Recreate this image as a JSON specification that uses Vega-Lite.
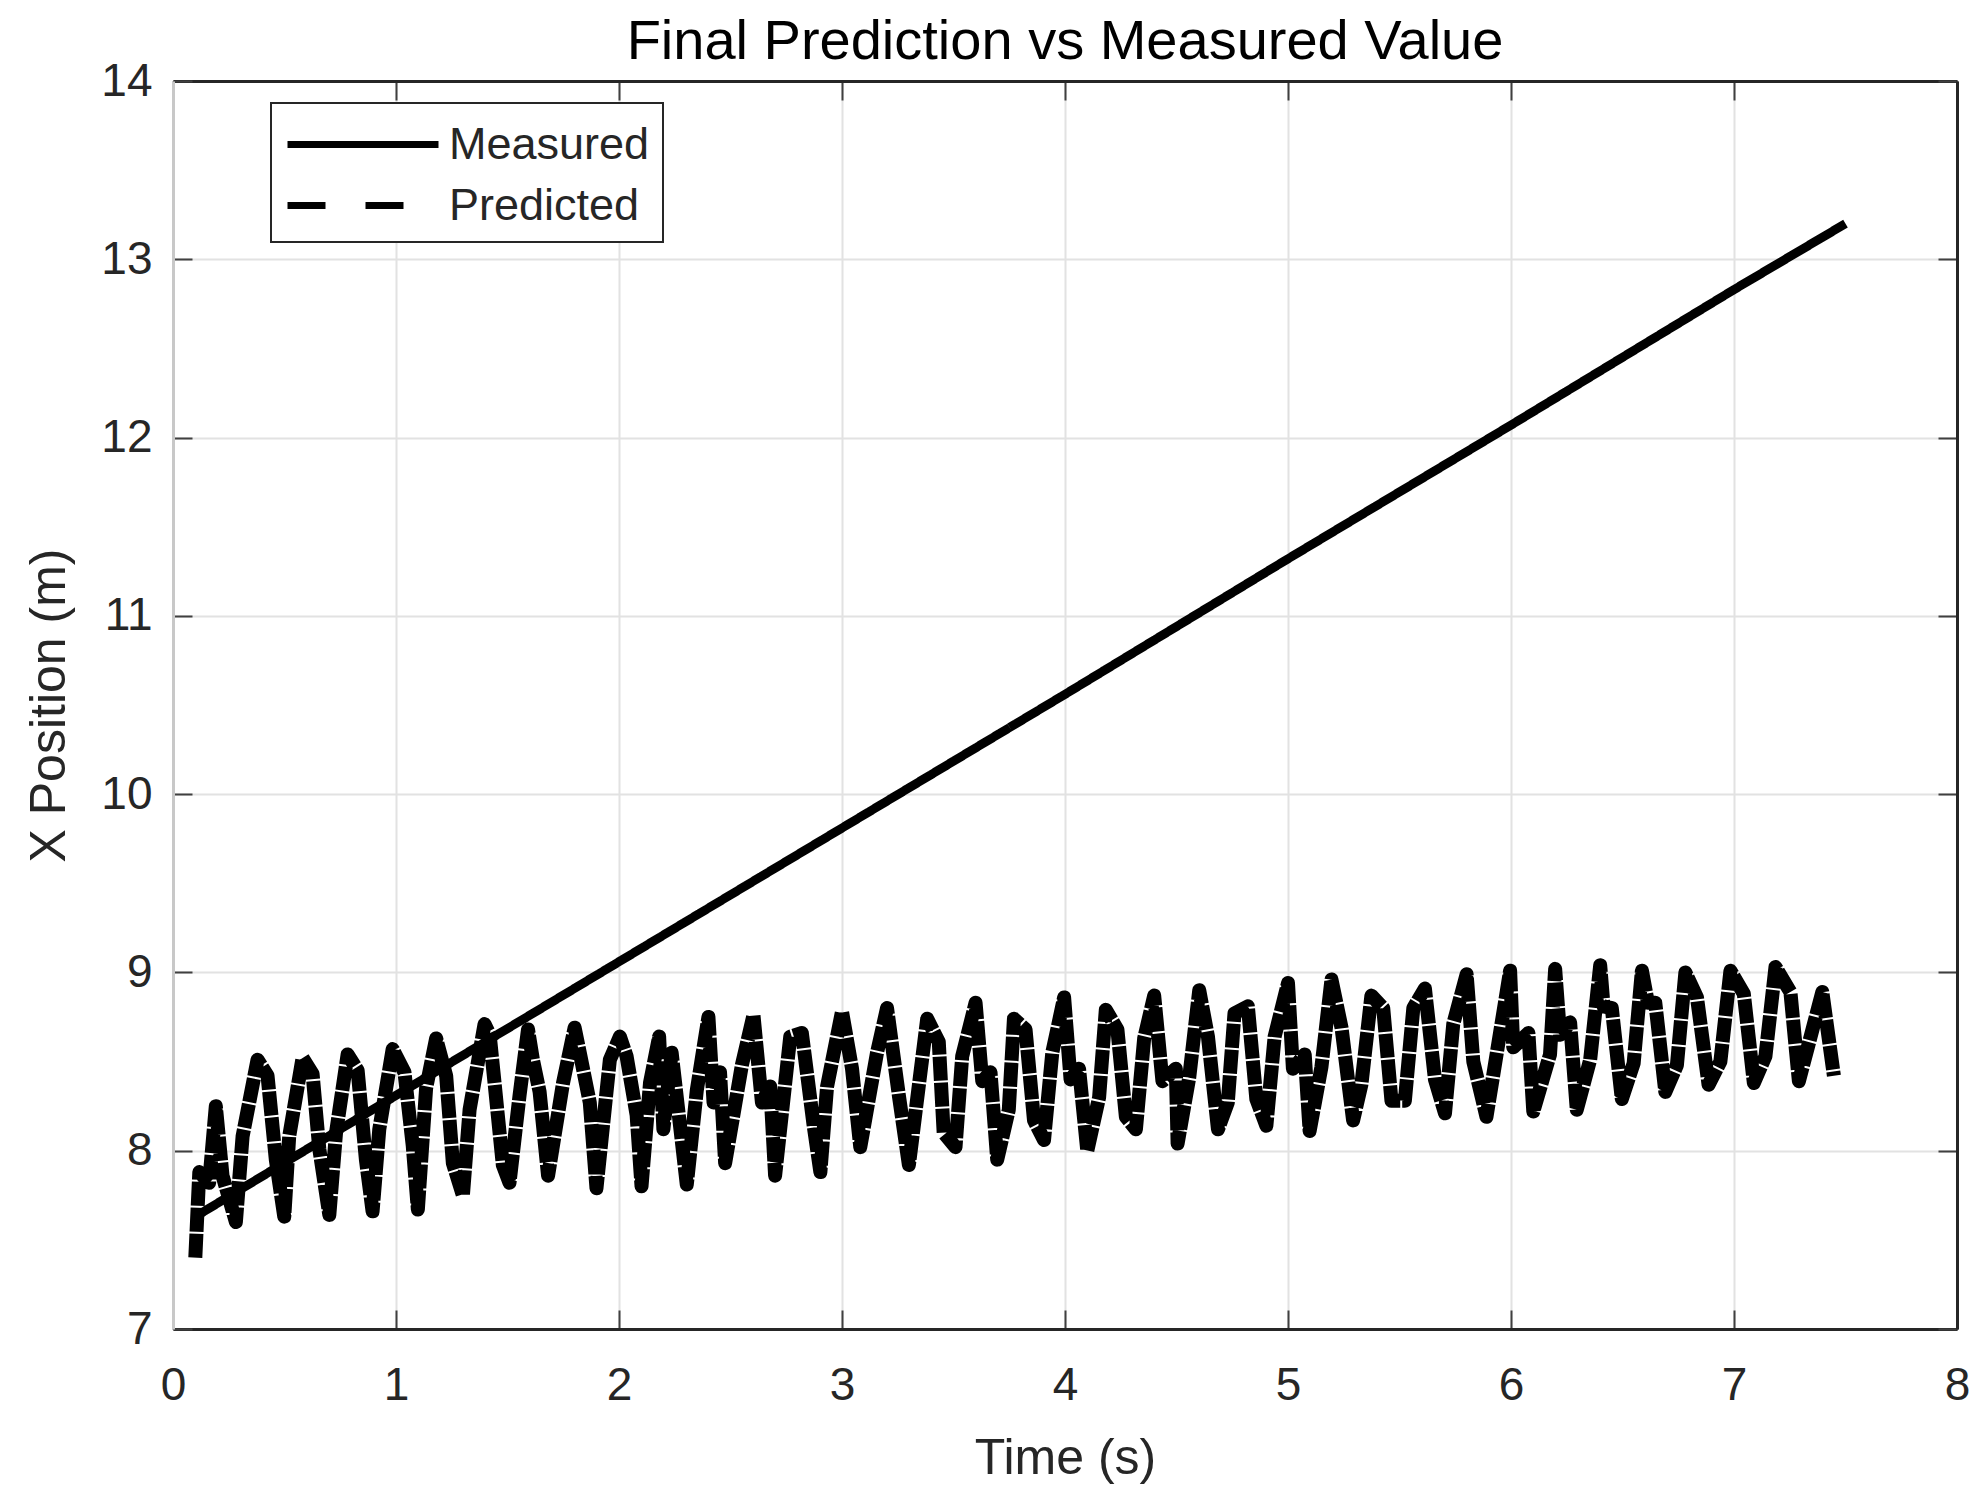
{
  "$schema": "https://vega.github.io/schema/vega-lite/v6.json",
  "description": "Final prediction vs measured X position over time.",
  "autosize": {"type": "none"},
  "padding": {"left": 173, "top": 81, "right": 30, "bottom": 181},
  "width": 1784,
  "height": 1248,
  "background": "white",
  "title": {
    "text": "Final Prediction vs Measured Value",
    "fontSize": 56,
    "font": "Liberation Sans",
    "fontWeight": "normal",
    "color": "#000000",
    "offset": -13
  },
  "data": {
    "values": [
      {"series": "Measured", "t": 0.1, "x": 7.63},
      {"series": "Measured", "t": 1.0, "x": 8.31},
      {"series": "Measured", "t": 2.0, "x": 9.06},
      {"series": "Measured", "t": 3.0, "x": 9.81},
      {"series": "Measured", "t": 4.0, "x": 10.56},
      {"series": "Measured", "t": 5.0, "x": 11.32},
      {"series": "Measured", "t": 6.0, "x": 12.07},
      {"series": "Measured", "t": 7.0, "x": 12.83},
      {"series": "Measured", "t": 7.5, "x": 13.2},

      {"series": "Predicted", "t": 0.100, "x": 7.40},
      {"series": "Predicted", "t": 0.118, "x": 7.88},
      {"series": "Predicted", "t": 0.162, "x": 7.82},
      {"series": "Predicted", "t": 0.192, "x": 8.25},
      {"series": "Predicted", "t": 0.222, "x": 7.86},
      {"series": "Predicted", "t": 0.282, "x": 7.60},
      {"series": "Predicted", "t": 0.312, "x": 8.08},
      {"series": "Predicted", "t": 0.379, "x": 8.51},
      {"series": "Predicted", "t": 0.424, "x": 8.42},
      {"series": "Predicted", "t": 0.461, "x": 7.95},
      {"series": "Predicted", "t": 0.499, "x": 7.63},
      {"series": "Predicted", "t": 0.521, "x": 8.08},
      {"series": "Predicted", "t": 0.581, "x": 8.52},
      {"series": "Predicted", "t": 0.626, "x": 8.43},
      {"series": "Predicted", "t": 0.656, "x": 8.01},
      {"series": "Predicted", "t": 0.701, "x": 7.64},
      {"series": "Predicted", "t": 0.731, "x": 8.10},
      {"series": "Predicted", "t": 0.783, "x": 8.54},
      {"series": "Predicted", "t": 0.828, "x": 8.45},
      {"series": "Predicted", "t": 0.865, "x": 7.95},
      {"series": "Predicted", "t": 0.895, "x": 7.66},
      {"series": "Predicted", "t": 0.925, "x": 8.12},
      {"series": "Predicted", "t": 0.985, "x": 8.57},
      {"series": "Predicted", "t": 1.038, "x": 8.44},
      {"series": "Predicted", "t": 1.075, "x": 8.03},
      {"series": "Predicted", "t": 1.098, "x": 7.67},
      {"series": "Predicted", "t": 1.135, "x": 8.35},
      {"series": "Predicted", "t": 1.180, "x": 8.63},
      {"series": "Predicted", "t": 1.225, "x": 8.42},
      {"series": "Predicted", "t": 1.255, "x": 7.93},
      {"series": "Predicted", "t": 1.300, "x": 7.75},
      {"series": "Predicted", "t": 1.330, "x": 8.23},
      {"series": "Predicted", "t": 1.397, "x": 8.71},
      {"series": "Predicted", "t": 1.420, "x": 8.65},
      {"series": "Predicted", "t": 1.442, "x": 8.38},
      {"series": "Predicted", "t": 1.479, "x": 7.92},
      {"series": "Predicted", "t": 1.509, "x": 7.82},
      {"series": "Predicted", "t": 1.554, "x": 8.31},
      {"series": "Predicted", "t": 1.592, "x": 8.68},
      {"series": "Predicted", "t": 1.614, "x": 8.51},
      {"series": "Predicted", "t": 1.644, "x": 8.33},
      {"series": "Predicted", "t": 1.682, "x": 7.86},
      {"series": "Predicted", "t": 1.749, "x": 8.38},
      {"series": "Predicted", "t": 1.801, "x": 8.69},
      {"series": "Predicted", "t": 1.824, "x": 8.55},
      {"series": "Predicted", "t": 1.869, "x": 8.27},
      {"series": "Predicted", "t": 1.899, "x": 7.79},
      {"series": "Predicted", "t": 1.959, "x": 8.51},
      {"series": "Predicted", "t": 2.004, "x": 8.64},
      {"series": "Predicted", "t": 2.034, "x": 8.53},
      {"series": "Predicted", "t": 2.079, "x": 8.20},
      {"series": "Predicted", "t": 2.101, "x": 7.80},
      {"series": "Predicted", "t": 2.139, "x": 8.38},
      {"series": "Predicted", "t": 2.180, "x": 8.64},
      {"series": "Predicted", "t": 2.199, "x": 8.12},
      {"series": "Predicted", "t": 2.236, "x": 8.55},
      {"series": "Predicted", "t": 2.304, "x": 7.81},
      {"series": "Predicted", "t": 2.349, "x": 8.34},
      {"series": "Predicted", "t": 2.401, "x": 8.75},
      {"series": "Predicted", "t": 2.424, "x": 8.27},
      {"series": "Predicted", "t": 2.453, "x": 8.44},
      {"series": "Predicted", "t": 2.476, "x": 7.93},
      {"series": "Predicted", "t": 2.551, "x": 8.48},
      {"series": "Predicted", "t": 2.603, "x": 8.76},
      {"series": "Predicted", "t": 2.641, "x": 8.27},
      {"series": "Predicted", "t": 2.678, "x": 8.36},
      {"series": "Predicted", "t": 2.700, "x": 7.86},
      {"series": "Predicted", "t": 2.768, "x": 8.64},
      {"series": "Predicted", "t": 2.820, "x": 8.66},
      {"series": "Predicted", "t": 2.873, "x": 8.14},
      {"series": "Predicted", "t": 2.903, "x": 7.88},
      {"series": "Predicted", "t": 2.933, "x": 8.36},
      {"series": "Predicted", "t": 3.000, "x": 8.78},
      {"series": "Predicted", "t": 3.045, "x": 8.46},
      {"series": "Predicted", "t": 3.082, "x": 8.02},
      {"series": "Predicted", "t": 3.157, "x": 8.55},
      {"series": "Predicted", "t": 3.202, "x": 8.80},
      {"series": "Predicted", "t": 3.255, "x": 8.31},
      {"series": "Predicted", "t": 3.300, "x": 7.92},
      {"series": "Predicted", "t": 3.382, "x": 8.74},
      {"series": "Predicted", "t": 3.434, "x": 8.61},
      {"series": "Predicted", "t": 3.456, "x": 8.10},
      {"series": "Predicted", "t": 3.509, "x": 8.02},
      {"series": "Predicted", "t": 3.539, "x": 8.53},
      {"series": "Predicted", "t": 3.599, "x": 8.83},
      {"series": "Predicted", "t": 3.629, "x": 8.39},
      {"series": "Predicted", "t": 3.666, "x": 8.44},
      {"series": "Predicted", "t": 3.696, "x": 7.95},
      {"series": "Predicted", "t": 3.748, "x": 8.23},
      {"series": "Predicted", "t": 3.771, "x": 8.74},
      {"series": "Predicted", "t": 3.823, "x": 8.68},
      {"series": "Predicted", "t": 3.861, "x": 8.17},
      {"series": "Predicted", "t": 3.906, "x": 8.06},
      {"series": "Predicted", "t": 3.943, "x": 8.55},
      {"series": "Predicted", "t": 3.996, "x": 8.86},
      {"series": "Predicted", "t": 4.025, "x": 8.40},
      {"series": "Predicted", "t": 4.063, "x": 8.46},
      {"series": "Predicted", "t": 4.100, "x": 8.00},
      {"series": "Predicted", "t": 4.153, "x": 8.30},
      {"series": "Predicted", "t": 4.183, "x": 8.79},
      {"series": "Predicted", "t": 4.235, "x": 8.68},
      {"series": "Predicted", "t": 4.273, "x": 8.19},
      {"series": "Predicted", "t": 4.318, "x": 8.12},
      {"series": "Predicted", "t": 4.355, "x": 8.63},
      {"series": "Predicted", "t": 4.400, "x": 8.87},
      {"series": "Predicted", "t": 4.437, "x": 8.39},
      {"series": "Predicted", "t": 4.497, "x": 8.46},
      {"series": "Predicted", "t": 4.505, "x": 8.04},
      {"series": "Predicted", "t": 4.557, "x": 8.41},
      {"series": "Predicted", "t": 4.602, "x": 8.90},
      {"series": "Predicted", "t": 4.641, "x": 8.64},
      {"series": "Predicted", "t": 4.686, "x": 8.12},
      {"series": "Predicted", "t": 4.730, "x": 8.27},
      {"series": "Predicted", "t": 4.760, "x": 8.77},
      {"series": "Predicted", "t": 4.820, "x": 8.81},
      {"series": "Predicted", "t": 4.858, "x": 8.29},
      {"series": "Predicted", "t": 4.903, "x": 8.14},
      {"series": "Predicted", "t": 4.940, "x": 8.64},
      {"series": "Predicted", "t": 5.000, "x": 8.94},
      {"series": "Predicted", "t": 5.022, "x": 8.46},
      {"series": "Predicted", "t": 5.075, "x": 8.54},
      {"series": "Predicted", "t": 5.097, "x": 8.11},
      {"series": "Predicted", "t": 5.150, "x": 8.47},
      {"series": "Predicted", "t": 5.195, "x": 8.96},
      {"series": "Predicted", "t": 5.240, "x": 8.69},
      {"series": "Predicted", "t": 5.292, "x": 8.17},
      {"series": "Predicted", "t": 5.329, "x": 8.37},
      {"series": "Predicted", "t": 5.374, "x": 8.87},
      {"series": "Predicted", "t": 5.427, "x": 8.80},
      {"series": "Predicted", "t": 5.464, "x": 8.28},
      {"series": "Predicted", "t": 5.524, "x": 8.28},
      {"series": "Predicted", "t": 5.562, "x": 8.80},
      {"series": "Predicted", "t": 5.614, "x": 8.91},
      {"series": "Predicted", "t": 5.659, "x": 8.40},
      {"series": "Predicted", "t": 5.704, "x": 8.21},
      {"series": "Predicted", "t": 5.741, "x": 8.71},
      {"series": "Predicted", "t": 5.801, "x": 8.99},
      {"series": "Predicted", "t": 5.831, "x": 8.50},
      {"series": "Predicted", "t": 5.890, "x": 8.19},
      {"series": "Predicted", "t": 5.996, "x": 9.01},
      {"series": "Predicted", "t": 6.010, "x": 8.58},
      {"series": "Predicted", "t": 6.078, "x": 8.66},
      {"series": "Predicted", "t": 6.100, "x": 8.22},
      {"series": "Predicted", "t": 6.175, "x": 8.54},
      {"series": "Predicted", "t": 6.198, "x": 9.02},
      {"series": "Predicted", "t": 6.220, "x": 8.65},
      {"series": "Predicted", "t": 6.265, "x": 8.72},
      {"series": "Predicted", "t": 6.295, "x": 8.23},
      {"series": "Predicted", "t": 6.355, "x": 8.51},
      {"series": "Predicted", "t": 6.400, "x": 9.04},
      {"series": "Predicted", "t": 6.415, "x": 8.81},
      {"series": "Predicted", "t": 6.452, "x": 8.80},
      {"series": "Predicted", "t": 6.497, "x": 8.29},
      {"series": "Predicted", "t": 6.550, "x": 8.49},
      {"series": "Predicted", "t": 6.587, "x": 9.01},
      {"series": "Predicted", "t": 6.614, "x": 8.83},
      {"series": "Predicted", "t": 6.647, "x": 8.83},
      {"series": "Predicted", "t": 6.692, "x": 8.33},
      {"series": "Predicted", "t": 6.744, "x": 8.48},
      {"series": "Predicted", "t": 6.782, "x": 9.00},
      {"series": "Predicted", "t": 6.834, "x": 8.86},
      {"series": "Predicted", "t": 6.886, "x": 8.37},
      {"series": "Predicted", "t": 6.939, "x": 8.50},
      {"series": "Predicted", "t": 6.984, "x": 9.01},
      {"series": "Predicted", "t": 7.044, "x": 8.88},
      {"series": "Predicted", "t": 7.089, "x": 8.38},
      {"series": "Predicted", "t": 7.141, "x": 8.53},
      {"series": "Predicted", "t": 7.186, "x": 9.03},
      {"series": "Predicted", "t": 7.253, "x": 8.89},
      {"series": "Predicted", "t": 7.291, "x": 8.39},
      {"series": "Predicted", "t": 7.396, "x": 8.89},
      {"series": "Predicted", "t": 7.448, "x": 8.42}
    ]
  },
  "encoding": {
    "x": {
      "field": "t", "type": "quantitative",
      "scale": {"domain": [0, 8], "nice": false, "zero": false}
    },
    "y": {
      "field": "x", "type": "quantitative",
      "scale": {"domain": [7, 14], "nice": false, "zero": false}
    }
  },
  "layer": [
    {
      "transform": [{"filter": "datum.series == 'Measured'"}],
      "mark": {"type": "line", "color": "black", "strokeWidth": 9},
      "encoding": {
        "x": {
          "field": "t", "type": "quantitative",
          "axis": {
            "orient": "bottom", "title": "Time (s)",
            "values": [0, 1, 2, 3, 4, 5, 6, 7, 8],
            "grid": true, "labelPadding": 53,
            "titleY": 144, "titleBaseline": "alphabetic"
          }
        },
        "y": {
          "field": "x", "type": "quantitative",
          "axis": {
            "orient": "left", "title": "X Position (m)",
            "values": [7, 8, 9, 10, 11, 12, 13, 14],
            "grid": true, "labelPadding": 40, "domainColor": "#c8c8c8",
            "titleX": -109, "titleBaseline": "alphabetic"
          }
        },
        "strokeDash": {
          "field": "series", "type": "nominal",
          "scale": {"domain": ["Measured", "Predicted"], "range": [[1, 0], [38, 40]]},
          "legend": {
            "orient": "none", "legendX": 98, "legendY": 22, "title": null,
            "symbolType": "M-1,0H5.04", "symbolSize": 2500, "symbolStrokeWidth": 7,
            "symbolStrokeColor": "black", "symbolFillColor": "transparent",
            "labelFont": "Liberation Sans", "labelFontSize": 45, "labelColor": "#262626",
            "labelLimit": 500, "labelOffset": 108, "rowPadding": 9, "padding": 13,
            "strokeColor": "#262626", "fillColor": "white"
          }
        }
      }
    },
    {
      "transform": [{"filter": "datum.series == 'Predicted'"}],
      "mark": {
        "type": "line", "color": "black", "strokeWidth": 14,
        "strokeDash": [24, 2], "strokeJoin": "round", "strokeCap": "butt"
      },
      "encoding": {
        "x": {
          "field": "t", "type": "quantitative",
          "axis": {
            "orient": "top", "title": null, "labels": false, "grid": false,
            "values": [0, 1, 2, 3, 4, 5, 6, 7, 8]
          }
        },
        "y": {
          "field": "x", "type": "quantitative",
          "axis": {
            "orient": "right", "title": null, "labels": false, "grid": false,
            "values": [7, 8, 9, 10, 11, 12, 13, 14]
          }
        }
      }
    }
  ],
  "resolve": {"axis": {"x": "independent", "y": "independent"}},
  "config": {
    "view": {"stroke": null},
    "axis": {
      "labelFont": "Liberation Sans", "labelFontSize": 46, "labelColor": "#262626",
      "labelFlush": false, "labelOverlap": false, "labelBound": false,
      "titleFont": "Liberation Sans", "titleFontSize": 50, "titleColor": "#262626",
      "titleFontWeight": "normal",
      "tickSize": -19, "tickWidth": 2, "tickColor": "#404040",
      "domainColor": "#262626", "domainWidth": 3,
      "gridColor": "#e2e2e2", "gridWidth": 2
    },
    "legend": {"strokeWidth": 2}
  }
}
